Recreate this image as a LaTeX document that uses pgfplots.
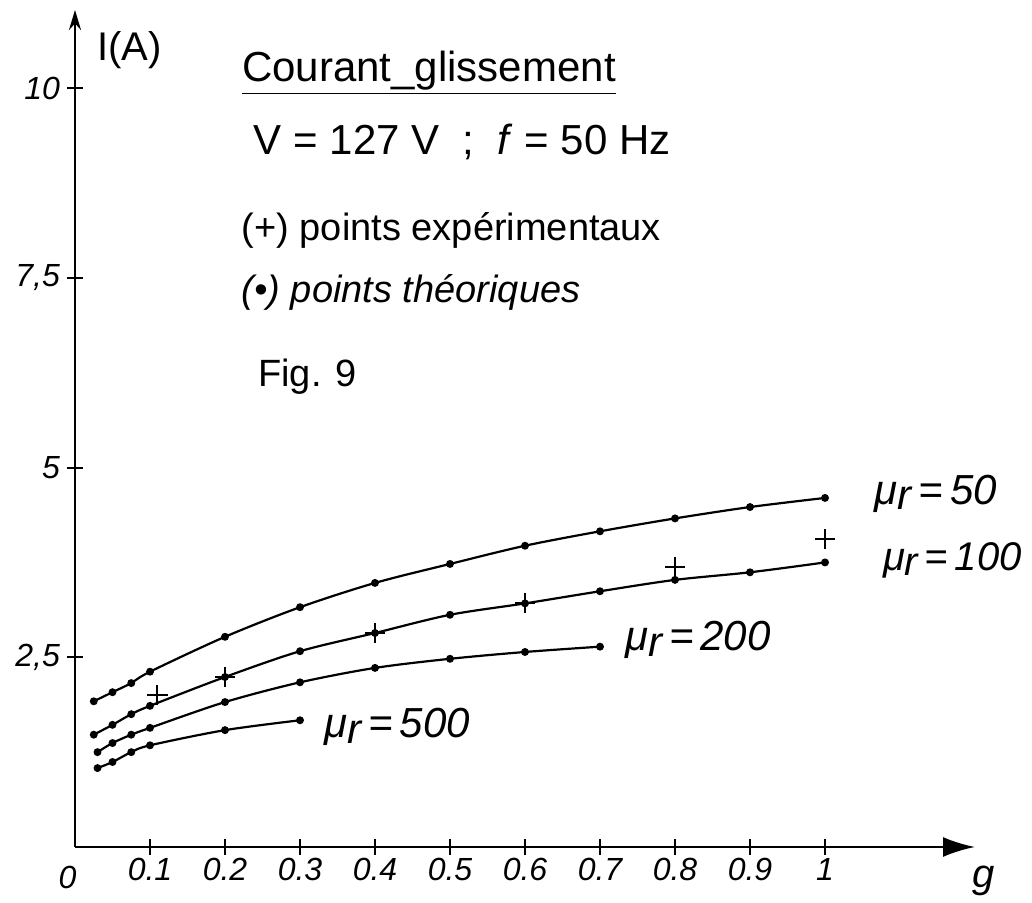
\documentclass[border=0pt]{standalone}
\usepackage{fontspec}
\setmainfont{Liberation Sans}
\usepackage{pgfplots}
\pgfplotsset{compat=1.18}
\usetikzlibrary{arrows.meta}
\newcommand{\mur}{μ\raisebox{-0.25ex}{r}}
\begin{document}
\begin{tikzpicture}
\useasboundingbox (-37.5pt,-28pt) rectangle (478.5pt,423.5pt);
\begin{axis}[
  at={(0pt,0pt)}, anchor=south west,
  scale only axis, width=450pt, height=418.5pt,
  xmin=0, xmax=1.2, ymin=0, ymax=11.03,
  axis lines=left,
  axis line style={line width=1.2pt, black},
  x axis line style={-{Latex[length=16pt,width=10pt]}},
  y axis line style={-{Stealth[length=10pt,width=6pt]}},
  clip=false,
  xtick={0.1,0.2,0.3,0.4,0.5,0.6,0.7,0.8,0.9,1},
  xticklabels={0.1,0.2,0.3,0.4,0.5,0.6,0.7,0.8,0.9,1},
  ytick={2.5,5,7.5,10},
  yticklabels={{2,5},5,{7,5},10},
  tick align=center, major tick length=8pt,
  tick style={line width=1pt, black},
  tick label style={font=\fontsize{16}{18}\selectfont\itshape},
  xticklabel style={yshift=2pt},
  every axis plot/.append style={line width=1.1pt, black},
]
% mu_r = 50
\addplot[smooth, mark=*, mark size=1.4pt] coordinates {
 (0.025,1.92) (0.05,2.04) (0.075,2.16) (0.1,2.31) (0.2,2.77) (0.3,3.16)
 (0.4,3.48) (0.5,3.73) (0.6,3.97) (0.7,4.16) (0.8,4.33) (0.9,4.48) (1.0,4.60)};
% mu_r = 100
\addplot[smooth, mark=*, mark size=1.4pt] coordinates {
 (0.025,1.48) (0.05,1.61) (0.075,1.75) (0.1,1.86) (0.2,2.24) (0.3,2.58)
 (0.4,2.82) (0.5,3.06) (0.6,3.21) (0.7,3.37) (0.8,3.52) (0.9,3.62) (1.0,3.75)};
% mu_r = 200
\addplot[smooth, mark=*, mark size=1.4pt] coordinates {
 (0.03,1.25) (0.05,1.37) (0.075,1.48) (0.1,1.57) (0.2,1.91) (0.3,2.17)
 (0.4,2.36) (0.5,2.48) (0.6,2.57) (0.7,2.64)};
% mu_r = 500
\addplot[smooth, mark=*, mark size=1.4pt] coordinates {
 (0.03,1.04) (0.05,1.12) (0.075,1.25) (0.1,1.34) (0.2,1.54) (0.3,1.67)};
% experimental points
\addplot[only marks, mark=+, mark size=5pt, mark options={line width=1pt}] coordinates {
 (0.11,2.00) (0.2,2.24) (0.4,2.82) (0.6,3.21) (0.8,3.69) (1.0,4.06)};

\node[font=\fontsize{16}{18}\selectfont\itshape, anchor=north] at (axis cs:-0.01,0) [yshift=-6pt] {0};
\node[font=\fontsize{20}{24}\selectfont\itshape] at (axis cs:1.211,-0.45) {g};
\node[font=\fontsize{20}{24}\selectfont, anchor=west] at (axis cs:0.02,10.5) {I(A)};

\node[font=\fontsize{21}{24}\selectfont] at (axis cs:0.472,10.2) {\underline{Courant\_glissement}};
\node[font=\fontsize{21}{24}\selectfont, anchor=west] at (axis cs:0.229,9.29) {V = 127 V \ ; \ \textit{f} = 50 Hz};
\node[font=\fontsize{19}{24}\selectfont, anchor=west] at (axis cs:0.213,8.13) {(+) points expérimentaux};
\node[font=\fontsize{19}{24}\selectfont\itshape, anchor=west] at (axis cs:0.213,7.31) {(•) points théoriques};
\node[font=\fontsize{19}{24}\selectfont] at (axis cs:0.31,6.2) {Fig. 9};

\node[font=\fontsize{21}{24}\selectfont\itshape, anchor=west] at (axis cs:1.057,4.66) {\mur\,=\,50};
\node[font=\fontsize{20}{24}\selectfont\itshape, anchor=west] at (axis cs:1.068,3.78) {\mur\,=\,100};
\node[font=\fontsize{21}{24}\selectfont\itshape, anchor=west] at (axis cs:0.724,2.73) {\mur\,=\,200};
\node[font=\fontsize{21}{24}\selectfont\itshape, anchor=west] at (axis cs:0.323,1.58) {\mur\,=\,500};
\end{axis}
\end{tikzpicture}
\end{document}
